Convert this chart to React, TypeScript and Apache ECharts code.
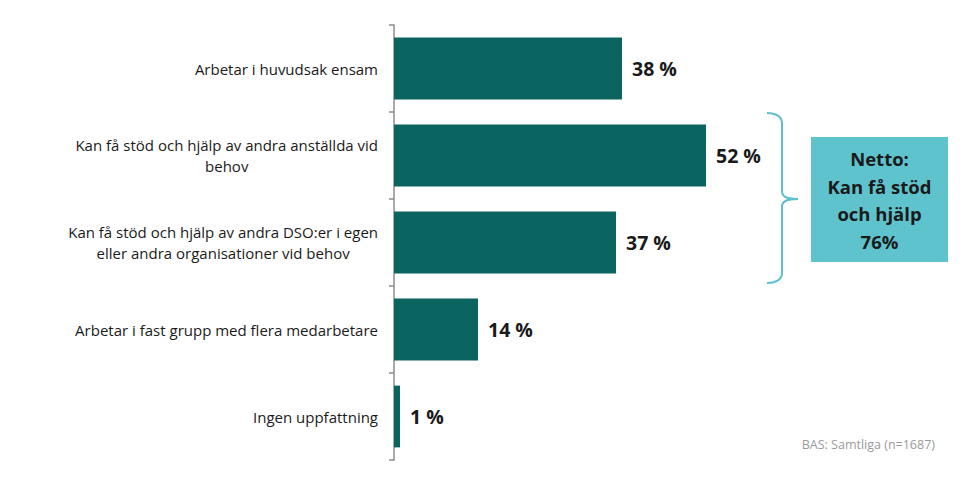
import React, { useEffect, useRef } from "react";
import * as echarts from "echarts";

const categories = [
  "Arbetar i huvudsak ensam",
  "Kan få stöd och hjälp av andra anställda vid\nbehov",
  "Kan få stöd och hjälp av andra DSO:er i egen\neller andra organisationer vid behov",
  "Arbetar i fast grupp med flera medarbetare",
  "Ingen uppfattning",
];
const values = [38, 52, 37, 14, 1];
const nettoLines = ["Netto:", "Kan få stöd", "och hjälp", "76%"];
const baseNote = "BAS: Samtliga (n=1687)";

const FONT = "'Open Sans', 'Liberation Sans', sans-serif";

echarts.graphic.registerShape(
  "brace",
  echarts.graphic.extendPath(
    "M0,0 C8,0 15,3 15,10 L15,78 C15,84 20,86 31,86 C20,86 15,88 15,94 L15,160 C15,167 8,170 0,170",
    {}
  )
);

export default function App() {
  const ref = useRef<HTMLDivElement>(null);
  useEffect(() => {
    if (!ref.current) return;
    const chart = echarts.init(ref.current, null, { renderer: "svg" });
    chart.setOption({
      animation: false,
      backgroundColor: "#ffffff",
      grid: { left: 394, right: 221, top: 25, bottom: 24, containLabel: false },
      xAxis: { type: "value", min: 0, max: 60, show: false },
      yAxis: {
        type: "category",
        inverse: true,
        data: categories,
        axisLine: { show: true, lineStyle: { color: "#8c8c8c", width: 1.5 } },
        axisTick: { show: true, length: 5, lineStyle: { color: "#8c8c8c", width: 1.5 } },
        axisLabel: {
          margin: 16,
          color: "#1a1a1a",
          fontFamily: FONT,
          fontSize: 15,
          lineHeight: 21,
          formatter: (v: string) =>
            v
              .split("\n")
              .map((l) => `{c|${l}}`)
              .join("\n"),
          rich: {
            c: {
              align: "center",
              color: "#1a1a1a",
              fontFamily: FONT,
              fontSize: 15,
              lineHeight: 21,
            },
          },
        },
      },
      series: [
        {
          type: "bar",
          data: values,
          barCategoryGap: "29%",
          itemStyle: { color: "#0a645f" },
          label: {
            show: true,
            position: "right",
            distance: 10,
            formatter: (p: any) => `${p.value} %`,
            color: "#1a1a1a",
            fontFamily: FONT,
            fontWeight: "bold",
            fontSize: 19.5,
          },
        },
      ],
      graphic: [
        {
          type: "brace",
          x: 767,
          y: 113,
          style: { fill: "none", stroke: "#5bbfcc", lineWidth: 2 },
        },
        {
          type: "rect",
          shape: { x: 811, y: 137, width: 137, height: 125 },
          style: { fill: "#5fc3ce" },
        },
        {
          type: "text",
          x: 879.5,
          y: 200,
          style: {
            text: nettoLines.join("\n"),
            align: "center",
            verticalAlign: "middle",
            fill: "#1a1a1a",
            font: `bold 18.5px ${FONT}`,
            lineHeight: 27.7,
          },
        },
        {
          type: "text",
          x: 935,
          y: 444,
          style: {
            text: baseNote,
            align: "right",
            verticalAlign: "middle",
            fill: "#9a9a9a",
            font: `12.5px ${FONT}`,
          },
        },
      ],
    });
    return () => chart.dispose();
  }, []);
  return (
    <div
      ref={ref}
      style={{ position: "fixed", left: 0, top: 0, width: 975, height: 484 }}
    />
  );
}
